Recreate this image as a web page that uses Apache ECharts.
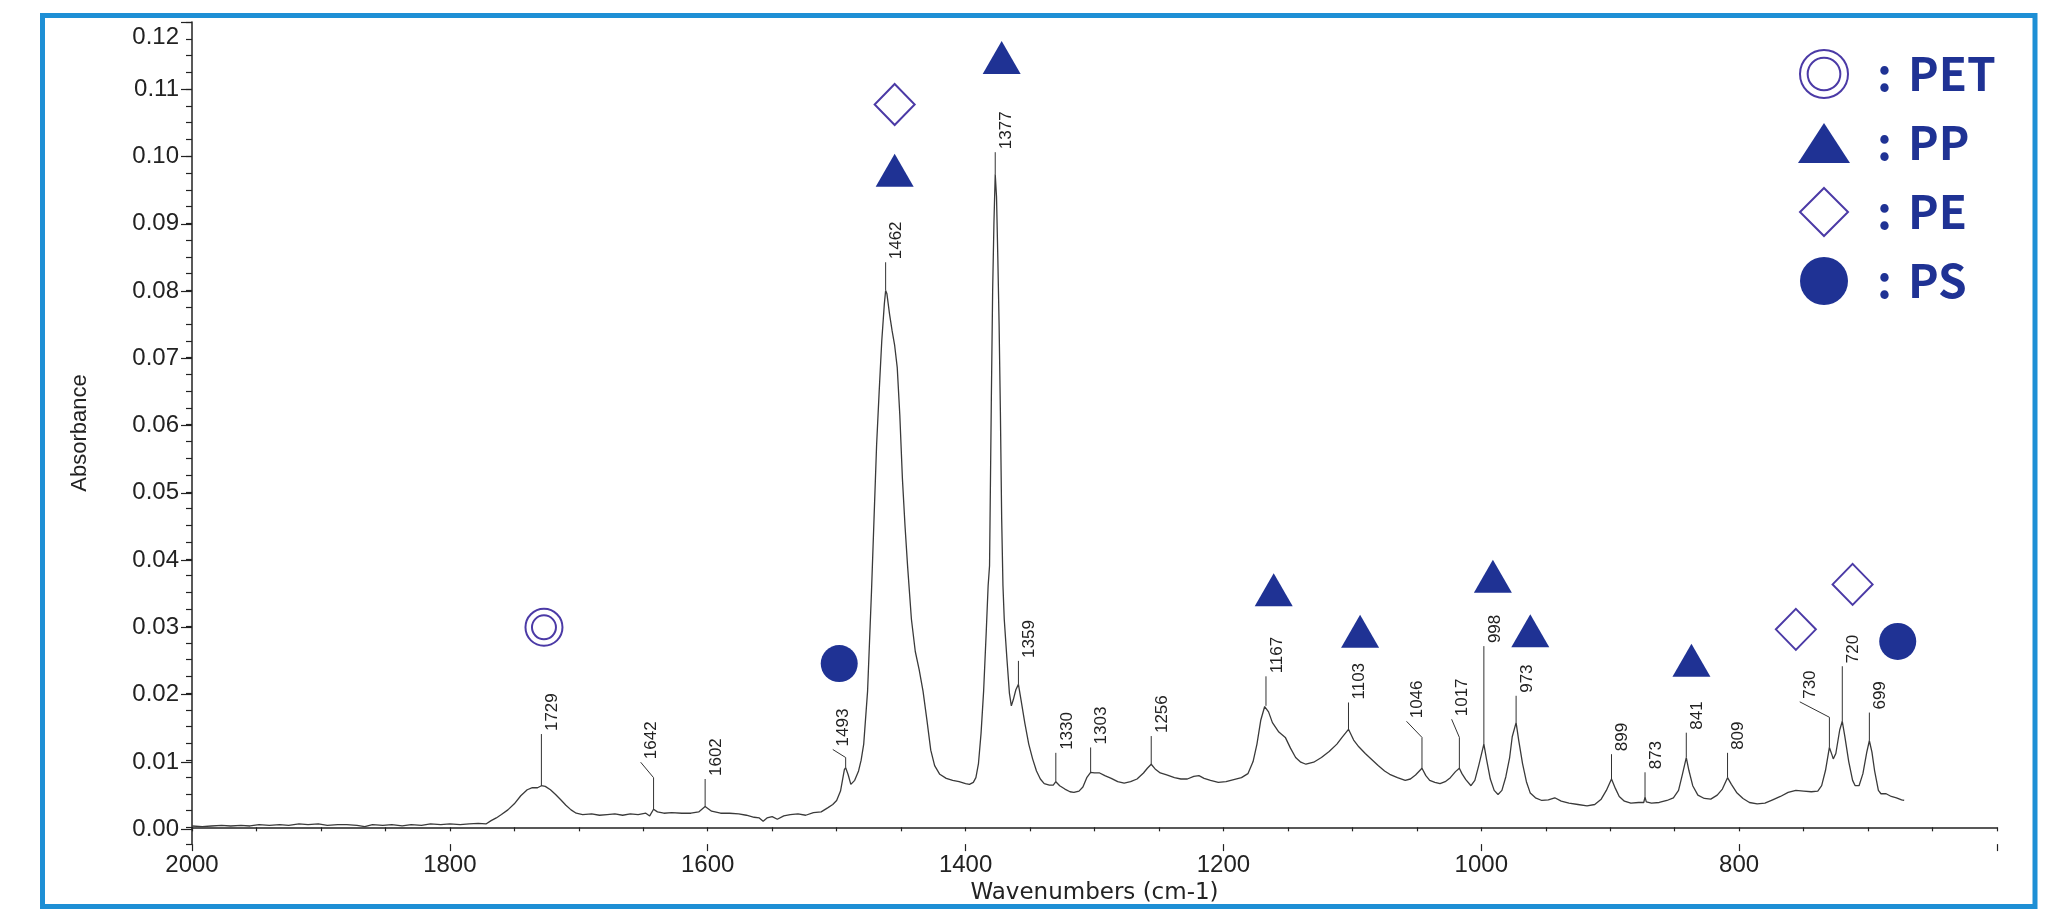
<!DOCTYPE html>
<html>
<head>
<meta charset="utf-8">
<script src="https://cdn.jsdelivr.net/npm/echarts@6/dist/echarts.min.js"></script>
<style>
html,body{margin:0;padding:0;background:#fff;}
#chart{width:2072px;height:910px;}
</style>
</head>
<body>
<div id="chart"></div>
<script>
// ---------- data ----------
const wavenumbers = [2000,1992,1985,1977,1970,1962,1955,1948,1940,1932,1925,1917,1910,1902,1895,1887,1880,1872,1866,1860,1852,1845,1837,1830,1822,1815,1807,1800,1792,1785,1778,1772,1768,1764,1760,1755,1750,1745,1740,1736,1732,1729,1726,1722,1718,1714,1710,1706,1702,1697,1690,1684,1678,1672,1666,1660,1654,1648,1645,1642,1639,1634,1628,1620,1613,1607,1602,1597,1590,1583,1576,1570,1564,1560,1557,1554,1550,1546,1541,1536,1530,1524,1518,1512,1507,1503,1500,1497,1494,1493,1491,1489,1486,1483,1481,1479,1476,1473,1471,1469,1467,1465,1463,1462,1461,1459,1457,1455,1453,1451,1449,1447,1445,1442,1439,1436,1433,1430,1427,1424,1420,1415,1410,1405,1400,1397,1394,1392,1390,1388,1386,1384,1382.5,1381.4,1380,1379,1378,1377,1376,1375,1374,1373,1372,1371,1370,1368,1366,1364.5,1363,1361,1359,1357,1354,1351,1348,1345,1342,1339,1335,1332,1330,1327,1323,1319,1316,1312,1309,1306,1303,1300,1296,1292,1287,1282,1277,1272,1267,1262,1259,1256,1253,1249,1244,1238,1233,1228,1223,1219,1215,1210,1204,1198,1192,1186,1181,1177,1174,1171,1168,1167,1165,1162,1157,1152,1148,1144,1140,1136,1130,1124,1118,1112,1108,1103,1099,1095,1090,1085,1080,1075,1071,1065,1059,1055,1051,1046,1043,1040,1036,1032,1028,1024,1020,1017,1015,1012,1008,1005,1002,998,996,993,990,987,984,981,978,976,973,971,968,965,962,958,953,948,943,938,932,925,918,912,907,903,899,896,893,889,884,878,874,873,872,868,862,856,851,847,844,841,839,836,832,827,822,817,813,809,806,802,797,792,786,780,774,768,762,756,750,744,739,736,733,730,728,727,725,722,720,718,715,712,710,707,704,701,699,697,695,692,690,686,682,678,674,672];
const absorbance = [0.0002,0.0001,0.0002,0.0003,0.0002,0.0003,0.0002,0.0004,0.0003,0.0004,0.0003,0.0005,0.0004,0.0005,0.0003,0.0004,0.0004,0.0003,0.0001,0.0004,0.0003,0.0004,0.0002,0.0004,0.0003,0.0005,0.0004,0.0005,0.0004,0.0005,0.0006,0.0005,0.0010,0.0014,0.0019,0.0026,0.0035,0.0047,0.0056,0.0059,0.0059,0.0062,0.0061,0.0056,0.0049,0.0041,0.0033,0.0026,0.0021,0.0019,0.0020,0.0018,0.0019,0.0020,0.0018,0.0020,0.0019,0.0021,0.0017,0.0027,0.0023,0.0021,0.0022,0.0021,0.0021,0.0023,0.0031,0.0024,0.0021,0.0021,0.0020,0.0018,0.0015,0.0014,0.0009,0.0014,0.0016,0.0012,0.0017,0.0019,0.0020,0.0018,0.0022,0.0023,0.0029,0.0034,0.0040,0.0054,0.0086,0.0089,0.0078,0.0064,0.0070,0.0084,0.0100,0.0124,0.0203,0.0350,0.0460,0.0570,0.0650,0.0725,0.0780,0.0800,0.0795,0.0765,0.0740,0.0718,0.0685,0.0614,0.0520,0.0450,0.0390,0.0310,0.0262,0.0235,0.0203,0.0160,0.0115,0.0092,0.0079,0.0073,0.0070,0.0068,0.0065,0.0064,0.0067,0.0074,0.0095,0.0140,0.0203,0.0290,0.0360,0.0390,0.0640,0.0800,0.0900,0.0973,0.0940,0.0850,0.0750,0.0620,0.0460,0.0360,0.0310,0.0253,0.0200,0.0181,0.0190,0.0205,0.0213,0.0190,0.0155,0.0124,0.0102,0.0084,0.0072,0.0065,0.0063,0.0063,0.0068,0.0062,0.0057,0.0053,0.0052,0.0054,0.0060,0.0074,0.0082,0.0081,0.0081,0.0077,0.0073,0.0068,0.0066,0.0068,0.0072,0.0081,0.0088,0.0094,0.0087,0.0081,0.0078,0.0074,0.0072,0.0072,0.0076,0.0077,0.0073,0.0070,0.0067,0.0068,0.0071,0.0074,0.0080,0.0098,0.0124,0.0160,0.0180,0.0181,0.0172,0.0156,0.0142,0.0134,0.0118,0.0104,0.0097,0.0094,0.0097,0.0104,0.0113,0.0124,0.0134,0.0146,0.0130,0.0120,0.0110,0.0101,0.0092,0.0084,0.0079,0.0074,0.0070,0.0072,0.0078,0.0088,0.0077,0.0070,0.0067,0.0065,0.0068,0.0074,0.0083,0.0088,0.0080,0.0071,0.0062,0.0070,0.0092,0.0124,0.0102,0.0072,0.0055,0.0049,0.0055,0.0075,0.0104,0.0135,0.0156,0.0130,0.0095,0.0068,0.0051,0.0044,0.0040,0.0041,0.0044,0.0039,0.0036,0.0034,0.0032,0.0034,0.0042,0.0055,0.0072,0.0058,0.0046,0.0039,0.0036,0.0037,0.0037,0.0045,0.0038,0.0036,0.0037,0.0040,0.0044,0.0055,0.0079,0.0104,0.0085,0.0062,0.0048,0.0043,0.0042,0.0048,0.0057,0.0074,0.0064,0.0052,0.0043,0.0037,0.0035,0.0036,0.0041,0.0046,0.0052,0.0055,0.0054,0.0053,0.0054,0.0062,0.0085,0.0119,0.0108,0.0102,0.0110,0.0145,0.0158,0.0135,0.0098,0.0070,0.0062,0.0062,0.0080,0.0112,0.0129,0.0112,0.0085,0.0055,0.0050,0.0050,0.0046,0.0044,0.0041,0.0040];

// assignment markers [wavenumber, absorbance]
const petPoints = [[1727, 0.0298]];
const ppPoints = [[1455, 0.0979], [1372, 0.1147], [1161, 0.0354], [1094, 0.0292], [991, 0.0374], [962, 0.0293], [837, 0.0249]];
const pePoints = [[1455, 0.1077], [756, 0.0295], [712, 0.0362]];
const psPoints = [[1498, 0.0244], [677, 0.0277]];

// peak annotations
const peakNames  = ['1729','1642','1602','1493','1462','1377','1359','1330','1303','1256','1167','1103','1046','1017','998','973','899','873','841','809','730','720','699'];
const peakX      = [1729,1642,1602,1493,1462,1377,1359,1330,1303,1256,1167,1103,1046,1017,998,973,899,873,841,809,730,720,699];
const peakStart  = [0.0062,0.0027,0.0031,0.0089,0.0800,0.0973,0.0213,0.0068,0.0082,0.0094,0.0181,0.0146,0.0088,0.0088,0.0124,0.0156,0.0072,0.0045,0.0104,0.0074,0.0119,0.0158,0.0129];
const peakKink   = [0.0139,0.0074,0.0072,0.0104,0.0842,0.1006,0.0248,0.0111,0.0119,0.0136,0.0225,0.0186,0.0134,0.0134,0.0270,0.0196,0.0109,0.0082,0.0141,0.0111,0.0164,0.0240,0.0171];
const peakTop    = [0.0139,0.0097,0.0072,0.0116,0.0842,0.1006,0.0248,0.0111,0.0119,0.0136,0.0225,0.0186,0.0158,0.0161,0.0270,0.0196,0.0109,0.0082,0.0141,0.0111,0.0187,0.0240,0.0171];
const peakLabelX = [1729,1652,1602,1503,1462,1377,1359,1330,1303,1256,1167,1103,1058,1023,998,973,899,873,841,809,753,720,699];

const legendNames = ['PET', 'PP', 'PE', 'PS'];

// ---------- styles ----------
const FONT = "'Liberation Sans', Arial, sans-serif";
const LEGEND_FONT = "'Noto Sans CJK JP', 'Noto Sans', sans-serif";
const NAVY = '#1f3294';
const PURPLE = '#4b3aa6';
const petSymbol = 'path://M0,18.5A18.5,18.5 0 1,1 37,18.5A18.5,18.5 0 1,1 0,18.5Z M6.5,18.5A12,12 0 1,1 30.5,18.5A12,12 0 1,1 6.5,18.5Z';
const petIcon = 'path://M0,23.5A23.5,23.5 0 1,1 47,23.5A23.5,23.5 0 1,1 0,23.5Z M7.5,23.5A16,16 0 1,1 39.5,23.5A16,16 0 1,1 7.5,23.5Z';

const spectrum = wavenumbers.map((w, i) => [w, absorbance[i]]);
const peakData = peakX.map((w, i) => [w, peakStart[i]]);

const chart = echarts.init(document.getElementById('chart'), null, {renderer: 'canvas'});

const option = {
  animation: false,
  backgroundColor: '#ffffff',
  graphic: [{
    type: 'rect', silent: true, z: 100,
    shape: {x: 42.5, y: 15.5, width: 1992.5, height: 891},
    style: {fill: 'none', stroke: '#1e8fd5', lineWidth: 5}
  }],
  grid: [
    {left: 192, right: 75, top: 22, bottom: 64},
    {left: 192, right: 75, top: 22, bottom: 80.8}
  ],
  legend: {
    orient: 'vertical', left: 1793, top: 44,
    itemWidth: 52, itemHeight: 48, itemGap: 20,
    selectedMode: false,
    data: [
      {name: 'PET', icon: petIcon},
      {name: 'PP', icon: 'path://M26,0L52,40L0,40Z'},
      {name: 'PE', icon: 'path://M27.5,0L55,27.5L27.5,55L0,27.5Z'},
      {name: 'PS', icon: 'circle'}
    ],
    formatter: function (n) { return '{c|:}{n|' + n + '}'; },
    textStyle: {
      color: NAVY, fontSize: 46, fontWeight: 'bold', fontFamily: LEGEND_FONT, lineHeight: 48,
      rich: {
        c: {color: NAVY, fontSize: 46, fontWeight: 'bold', fontFamily: LEGEND_FONT, lineHeight: 48, padding: [0, 16, 0, 22]},
        n: {color: NAVY, fontSize: 46, fontWeight: 'bold', fontFamily: LEGEND_FONT, lineHeight: 48}
      }
    }
  },
  xAxis: [
    {
      type: 'value', gridIndex: 0, min: 600, max: 2000, interval: 50, inverse: true,
      position: 'bottom',
      axisLine: {show: true, lineStyle: {color: '#222', width: 1.5}},
      axisTick: {show: true, length: 4, lineStyle: {color: '#222', width: 1.2}},
      axisLabel: {show: false},
      splitLine: {show: false}
    },
    {
      type: 'value', gridIndex: 0, min: 600, max: 2000, interval: 200, inverse: true,
      position: 'bottom',
      axisLine: {show: false},
      axisTick: {show: true, length: 7, lineStyle: {color: '#222', width: 1.2}},
      axisLabel: {
        show: true, margin: 9, fontSize: 24, color: '#222', fontFamily: FONT,
        formatter: function (v) { return v === 600 ? '' : String(v); }
      },
      splitLine: {show: false},
      name: 'Wavenumbers (cm-1)', nameLocation: 'middle', nameGap: 33,
      nameTextStyle: {fontSize: 23, color: '#222', fontFamily: "'DejaVu Sans', sans-serif"}
    },
    {type: 'value', gridIndex: 1, min: 0, max: 1, show: false}
  ],
  yAxis: [
    {
      type: 'value', gridIndex: 0, min: -0.0025, max: 0.12, interval: 0.0025,
      axisLine: {show: true, lineStyle: {color: '#222', width: 1.5}},
      axisTick: {show: true, length: 6, lineStyle: {color: '#222', width: 1.2}},
      axisLabel: {show: false},
      splitLine: {show: false},
      name: 'Absorbance', nameLocation: 'middle', nameGap: 101,
      nameTextStyle: {fontSize: 22, color: '#222', fontFamily: FONT}
    },
    {
      type: 'value', gridIndex: 1, min: 0, max: 0.12, interval: 0.01,
      axisLine: {show: false},
      axisTick: {show: true, length: 11, lineStyle: {color: '#222', width: 1.2}},
      axisLabel: {
        show: true, margin: 13, fontSize: 24, color: '#222', fontFamily: FONT,
        formatter: function (v) {
          return Math.abs(v - 0.12) < 1e-9 ? '{t|0.12}' : v.toFixed(2);
        },
        rich: {t: {fontSize: 24, color: '#222', fontFamily: FONT, padding: [30, 0, 0, 0]}}
      },
      splitLine: {show: false}
    }
  ],
  series: [
    {
      name: 'spectrum', type: 'line', xAxisIndex: 0, yAxisIndex: 0,
      data: spectrum, showSymbol: false, symbol: 'none', smooth: false,
      lineStyle: {color: '#3a3a3a', width: 1.3}, z: 2, silent: true
    },
    {
      name: 'peaks', type: 'custom', xAxisIndex: 0, yAxisIndex: 0,
      data: peakData, encode: {x: 0, y: 1}, z: 3, silent: true, clip: false,
      renderItem: function (params, api) {
        const i = params.dataIndex;
        const p0 = api.coord([peakX[i], peakStart[i]]);
        const p1 = api.coord([peakX[i], peakKink[i]]);
        const p2 = api.coord([peakLabelX[i], peakTop[i]]);
        return {
          type: 'group',
          children: [
            {type: 'polyline', shape: {points: [p0, p1, p2]},
             style: {stroke: '#333', lineWidth: 1, fill: 'none'}},
            {type: 'text', x: p2[0] + 11, y: p2[1] - 3, rotation: Math.PI / 2,
             style: {text: peakNames[i], fontSize: 17, fontFamily: FONT, fill: '#222',
                     align: 'left', verticalAlign: 'middle'}}
          ]
        };
      }
    },
    {
      name: 'PET', type: 'scatter', xAxisIndex: 0, yAxisIndex: 0, data: petPoints,
      symbol: petSymbol, symbolSize: 37, z: 5, silent: true,
      itemStyle: {color: 'rgba(0,0,0,0)', borderColor: PURPLE, borderWidth: 2, opacity: 1}
    },
    {
      name: 'PP', type: 'scatter', xAxisIndex: 0, yAxisIndex: 0, data: ppPoints,
      symbol: 'triangle', symbolSize: [38, 33], z: 5, silent: true,
      itemStyle: {color: NAVY, opacity: 1}
    },
    {
      name: 'PE', type: 'scatter', xAxisIndex: 0, yAxisIndex: 0, data: pePoints,
      symbol: 'diamond', symbolSize: [40, 41], z: 5, silent: true,
      itemStyle: {color: '#ffffff', borderColor: PURPLE, borderWidth: 2, opacity: 1}
    },
    {
      name: 'PS', type: 'scatter', xAxisIndex: 0, yAxisIndex: 0, data: psPoints,
      symbol: 'circle', symbolSize: 37, z: 5, silent: true,
      itemStyle: {color: NAVY, opacity: 1}
    }
  ]
};
chart.setOption(option);
</script>
</body>
</html>
